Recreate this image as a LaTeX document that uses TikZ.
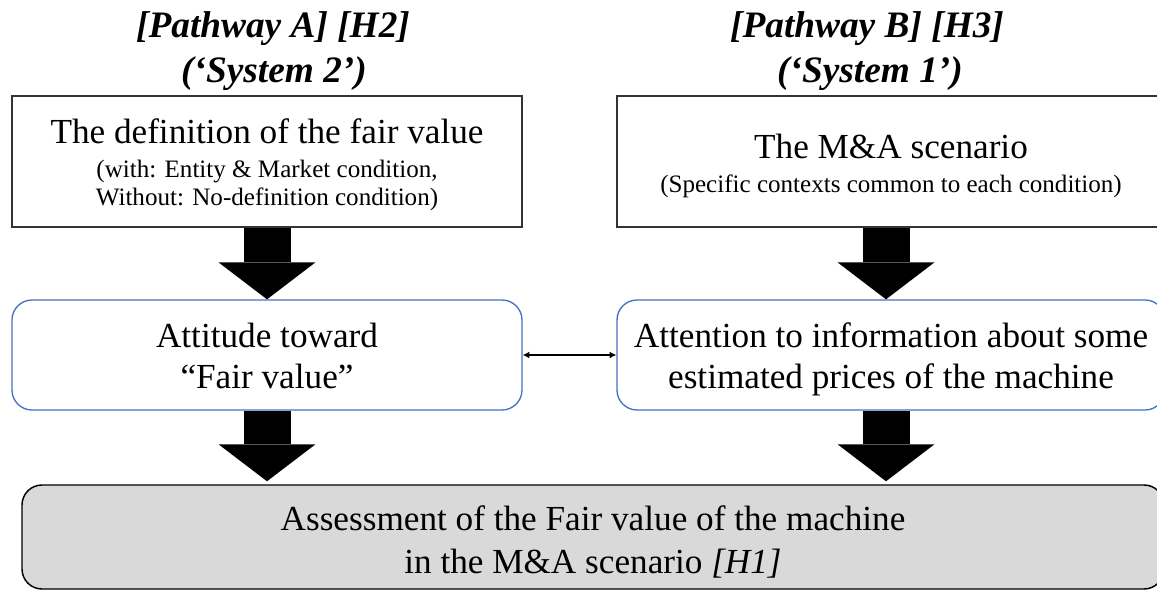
\documentclass[tikz,border=0pt]{standalone}
\usepackage{fontspec}
\setmainfont{Liberation Serif}
\usetikzlibrary{arrows.meta}
\definecolor{boxblue}{HTML}{4472C4}
\definecolor{boxgray}{HTML}{D9D9D9}
\begin{document}
\begin{tikzpicture}[x=0.75pt,y=-0.75pt,
  plainbox/.style={draw=black!80, line width=1.1pt, inner sep=0pt, fill=white},
  bluebox/.style={draw=boxblue, line width=1pt, rounded corners=15pt, inner sep=0pt, fill=white},
  graybox/.style={draw=black, fill=boxgray, line width=1.1pt, rounded corners=15pt, inner sep=0pt},
  headtxt/.style={anchor=base, inner sep=0pt, font=\fontsize{28pt}{33pt}\selectfont\bfseries\itshape},
  maintxt/.style={anchor=base, inner sep=0pt, font=\fontsize{26.4pt}{31pt}\selectfont},
  subtxt/.style={anchor=base, inner sep=0pt, font=\fontsize{18.8pt}{21pt}\selectfont},
  bigarrow/.style={line width=35.25pt, -{Triangle[width=72.75pt,length=27.75pt,line width=0pt]}},
  thinarrow/.style={line width=0.8pt, {Latex[length=5pt,width=5pt]}-{Latex[length=5pt,width=5pt]}}
]
\useasboundingbox (0,0) rectangle (1157,592);
\fill[white] (0,0) rectangle (1157,592);
\begin{scope}
\clip (0,0) rectangle (1157,592);
% boxes
\node[plainbox, minimum width=382.5pt, minimum height=98.25pt] (tl) at (267,161.5) {};
\node[plainbox, minimum width=411pt, minimum height=98.25pt] (tr) at (891,161.5) {};
\node[bluebox, minimum width=382.5pt, minimum height=82.5pt] (ml) at (267,355) {};
\node[bluebox, minimum width=411pt, minimum height=82.5pt] (mr) at (891,355) {};
\node[graybox, minimum width=856.5pt, minimum height=78pt] (gb) at (593,537) {};
% headings
\node[headtxt] (ha1) at (273,38) {[Pathway A] [H2]};
\node[headtxt] (ha2) at (274,83) {(‘System 2’)};
\node[headtxt] (hb1) at (867,38) {[Pathway B] [H3]};
\node[headtxt] (hb2) at (870,83) {(‘System 1’)};
% texts
\node[maintxt] (t1a) at (267,143) {The definition of the fair value};
\node[subtxt] (t1b) at (267,177) {(with: Entity \& Market condition,};
\node[subtxt] (t1c) at (267,205) {Without: No-definition condition)};
\node[maintxt] (t2a) at (891,158) {The M\&A scenario};
\node[subtxt] (t2b) at (891,192) {(Specific contexts common to each condition)};
\node[maintxt] (m1a) at (267,347) {Attitude toward};
\node[maintxt] (m1b) at (267,388) {“Fair value”};
\node[maintxt] (m2a) at (891,347) {Attention to information about some};
\node[maintxt] (m2b) at (891,388) {estimated prices of the machine};
\node[maintxt] (b1) at (593,530) {Assessment of the Fair value of the machine};
\node[maintxt] (b2) at (593,573) {in the M\&A scenario \textit{[H1]}};
% arrows
\draw[bigarrow] (tl.south) -- (ml.north);
\draw[bigarrow] ([xshift=-3.75pt]tr.south) -- ([xshift=-3.75pt]mr.north);
\draw[bigarrow, shorten >=2.25pt] (ml.south) -- (ml.south |- gb.north);
\draw[bigarrow, shorten >=2.25pt] ([xshift=-3.75pt]mr.south) -- ([xshift=-3.75pt]mr.south |- gb.north);
\draw[thinarrow] (ml.east) -- (mr.west);
\end{scope}
\end{tikzpicture}
\end{document}
